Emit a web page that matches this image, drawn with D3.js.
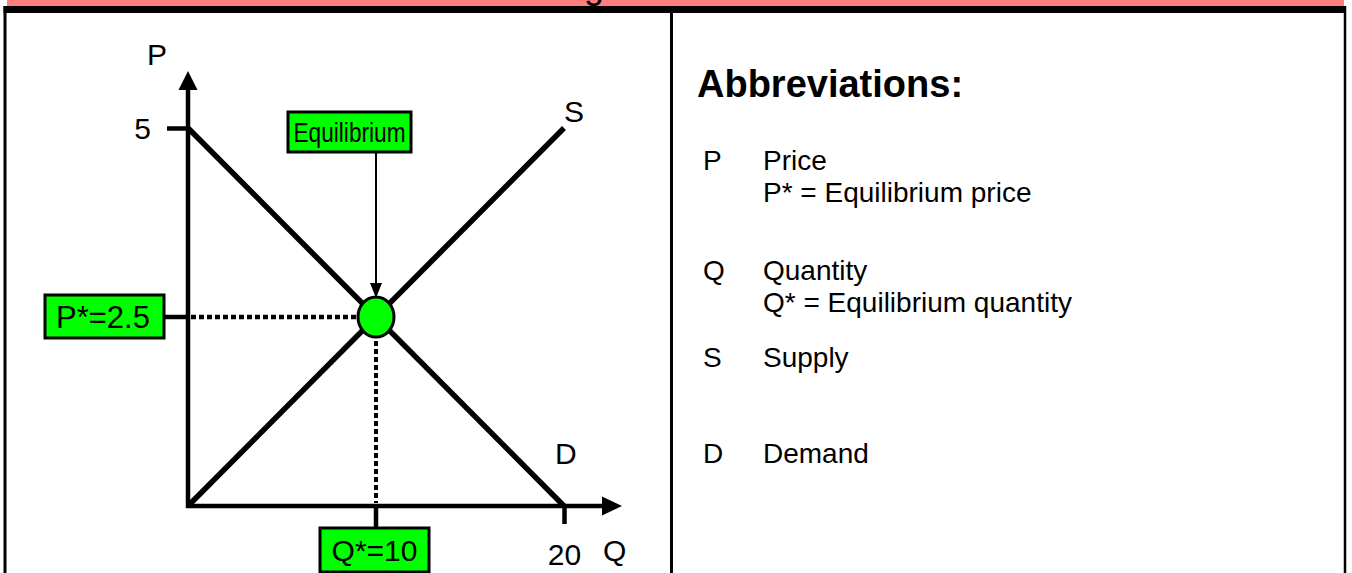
<!DOCTYPE html>
<html><head><meta charset="utf-8">
<script src="https://cdn.jsdelivr.net/npm/d3@7"></script>
<style>
html,body{margin:0;padding:0;background:#fff;}
svg{display:block;font-family:"Liberation Sans",Arial,sans-serif;}
</style></head>
<body>
<svg id="c" width="1352" height="573"></svg>
<script>
// ---- data ----
const titleText = "Market Clearing";
const qDomain = [0, 20];
const pDomain = [0, 5];
const demandPts = [{q: 0, p: 5}, {q: 20, p: 0}];
const supplyPts = [{q: 0, p: 0}, {q: 20, p: 5}];
const eqQ = 10, eqP = 2.5;
const pTicks = [5];
const qTicks = [20];
const eqPLabel = "P*=2.5";
const eqQLabel = "Q*=10";
const eqLabel = "Equilibrium";
const abbrevHeading = "Abbreviations:";
const abbrevKeys = ["P", "Q", "S", "D"];
const abbrevNames = ["Price", "Quantity", "Supply", "Demand"];
const abbrevNotes = ["P* = Equilibrium price", "Q* = Equilibrium quantity", "", ""];

const svg = d3.select("#c");
const GREEN = "#00ff00";

// ---- frame / banner ----
svg.append("rect").attr("x", 7).attr("y", -10).attr("width", 1337).attr("height", 16).attr("fill", "#ff7f7f");
const title = svg.append("text").attr("x", 0).attr("y", -2).attr("font-size", 36).attr("fill", "#000").text(titleText);
const gi = titleText.indexOf("g");
const gx = title.node().getStartPositionOfChar(gi).x;
title.attr("x", 584 - gx);
svg.append("rect").attr("x", 3.5).attr("y", 6).attr("width", 1342).attr("height", 7).attr("fill", "#000");
svg.append("line").attr("x1", 5).attr("x2", 5).attr("y1", 6).attr("y2", 573).attr("stroke", "#000").attr("stroke-width", 3);
svg.append("line").attr("x1", 1345).attr("x2", 1345).attr("y1", 6).attr("y2", 573).attr("stroke", "#000").attr("stroke-width", 2.5);
svg.append("line").attr("x1", 671.5).attr("x2", 671.5).attr("y1", 6).attr("y2", 573).attr("stroke", "#000").attr("stroke-width", 3);

// ---- scales ----
const x = d3.scaleLinear().domain(qDomain).range([188, 564]);
const y = d3.scaleLinear().domain(pDomain).range([506, 128]);

const g = svg.append("g");

// axes lines with arrows
g.append("line").attr("x1", x(0)).attr("x2", x(0)).attr("y1", y(0) + 2).attr("y2", 88).attr("stroke", "#000").attr("stroke-width", 4.5);
g.append("path").attr("d", `M${x(0)},71 L${x(0) - 9.5},90 L${x(0) + 9.5},90 Z`).attr("fill", "#000");
g.append("line").attr("x1", x(0) - 2).attr("x2", 605).attr("y1", y(0)).attr("y2", y(0)).attr("stroke", "#000").attr("stroke-width", 4.5);
g.append("path").attr("d", `M622,${y(0)} L602,${y(0) - 9.5} L602,${y(0) + 9.5} Z`).attr("fill", "#000");

// ticks via d3 axes
const yAxis = d3.axisLeft(y).tickValues(pTicks).tickSize(21).tickPadding(16).tickFormat(d3.format("d"));
const ya = g.append("g").attr("transform", `translate(${x(0)},0)`).call(yAxis);
ya.select(".domain").remove();
ya.selectAll(".tick line").attr("stroke", "#000").attr("stroke-width", 4.5);
ya.selectAll(".tick text").attr("font-size", 30).attr("font-family", "Liberation Sans, Arial, sans-serif").attr("fill", "#000").attr("dy", "0.36em");

const xAxis = d3.axisBottom(x).tickValues(qTicks).tickSize(18).tickPadding(20).tickFormat(d3.format("d"));
const xa = g.append("g").attr("transform", `translate(0,${y(0)})`).call(xAxis);
xa.select(".domain").remove();
xa.selectAll(".tick line").attr("stroke", "#000").attr("stroke-width", 4.5);
xa.selectAll(".tick text").attr("font-size", 30).attr("font-family", "Liberation Sans, Arial, sans-serif").attr("fill", "#000").attr("dy", "0.71em");

// axis titles
g.append("text").attr("x", x(0) - 41).attr("y", 65).attr("font-size", 30).text("P");
g.append("text").attr("x", 603).attr("y", 561).attr("font-size", 30).text("Q");

// curves
const line = d3.line().x(d => x(d.q)).y(d => y(d.p));
g.append("path").datum(demandPts).attr("d", line).attr("fill", "none").attr("stroke", "#000").attr("stroke-width", 5.5);
g.append("path").datum(supplyPts).attr("d", line).attr("fill", "none").attr("stroke", "#000").attr("stroke-width", 5.5);
g.append("text").attr("x", x(20) + 0).attr("y", 122).attr("font-size", 30).text("S");
g.append("text").attr("x", x(20) - 9).attr("y", 464).attr("font-size", 30).text("D");

// dotted guides
g.append("line").attr("x1", x(0) + 3).attr("x2", x(eqQ)).attr("y1", y(eqP)).attr("y2", y(eqP))
  .attr("stroke", "#000").attr("stroke-width", 4.5).attr("stroke-dasharray", "5,3");
g.append("line").attr("x1", x(eqQ)).attr("x2", x(eqQ)).attr("y1", y(eqP)).attr("y2", y(0) - 3)
  .attr("stroke", "#000").attr("stroke-width", 4).attr("stroke-dasharray", "5,3");

// P* label: tick + box
g.append("line").attr("x1", 164).attr("x2", x(0)).attr("y1", y(eqP)).attr("y2", y(eqP)).attr("stroke", "#000").attr("stroke-width", 4.5);
g.append("rect").attr("x", 45).attr("y", y(eqP) - 22).attr("width", 119).attr("height", 43).attr("fill", GREEN).attr("stroke", "#000").attr("stroke-width", 3);
g.append("text").attr("x", 103).attr("y", y(eqP) + 11).attr("text-anchor", "middle").attr("font-size", 31).text(eqPLabel);

// Q* label: tick + box
g.append("line").attr("x1", x(eqQ)).attr("x2", x(eqQ)).attr("y1", y(0)).attr("y2", 528).attr("stroke", "#000").attr("stroke-width", 4.5);
g.append("rect").attr("x", 320).attr("y", 528).attr("width", 109).attr("height", 44).attr("fill", GREEN).attr("stroke", "#000").attr("stroke-width", 3);
g.append("text").attr("x", 374.5).attr("y", 561).attr("text-anchor", "middle").attr("font-size", 30).text(eqQLabel);

// Equilibrium label + arrow
g.append("rect").attr("x", 288).attr("y", 112).attr("width", 123).attr("height", 40).attr("fill", GREEN).attr("stroke", "#000").attr("stroke-width", 3);
g.append("text").attr("x", 349.5).attr("y", 142).attr("text-anchor", "middle").attr("font-size", 27)
  .attr("textLength", 112).attr("lengthAdjust", "spacingAndGlyphs").text(eqLabel);
g.append("line").attr("x1", x(eqQ)).attr("x2", x(eqQ)).attr("y1", 153).attr("y2", 288).attr("stroke", "#000").attr("stroke-width", 2);
g.append("path").attr("d", `M${x(eqQ)},${y(eqP) - 19} L${x(eqQ) - 6},${y(eqP) - 34} L${x(eqQ) + 6},${y(eqP) - 34} Z`).attr("fill", "#000");

// equilibrium point
g.append("ellipse").attr("cx", x(eqQ)).attr("cy", y(eqP)).attr("rx", 18).attr("ry", 20)
  .attr("fill", GREEN).attr("stroke", "#000").attr("stroke-width", 3);

// ---- abbreviations panel ----
const r = svg.append("g");
r.append("text").attr("x", 697).attr("y", 97).attr("font-size", 38).attr("font-weight", "bold").text(abbrevHeading);
const rowY = [170, 280, 367, 463];
abbrevKeys.forEach((k, i) => {
  r.append("text").attr("x", 703).attr("y", rowY[i]).attr("font-size", 28).text(k);
  r.append("text").attr("x", 763).attr("y", rowY[i]).attr("font-size", 28).text(abbrevNames[i]);
  if (abbrevNotes[i]) r.append("text").attr("x", 763).attr("y", rowY[i] + 32).attr("font-size", 28).text(abbrevNotes[i]);
});
</script>
</body></html>
